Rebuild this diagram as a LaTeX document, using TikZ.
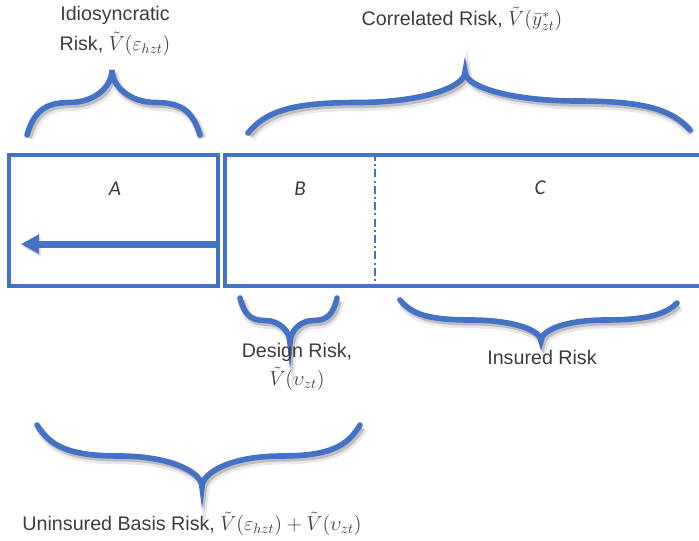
\documentclass[tikz,border=0pt]{standalone}
\usepackage{fontspec}
\setmainfont{Liberation Sans}
\newfontfamily\partfont{Carlito}
\usetikzlibrary{arrows.meta, positioning}
\definecolor{riskblue}{RGB}{68,114,196}
\definecolor{risktext}{RGB}{60,60,60}

\begin{document}
\begin{tikzpicture}[x=0.25mm, y=-0.25mm,
    every node/.style={text=risktext, font=\fontsize{14}{19}\selectfont},
    box part/.style={draw=riskblue, line width=1mm, inner sep=0pt, minimum height=32.75mm},
    part label/.style={font=\fontsize{15}{17}\selectfont\partfont\itshape},
    risk label/.style={align=center},
    divider/.style={draw=riskblue, line width=0.7mm, dash pattern=on 2mm off 0.8mm on 0.5mm off 0.8mm},
    big arrow/.style={draw=riskblue, line width=1.75mm, -{Triangle[length=4.5mm, width=4.6mm]},
        preaction={draw=black!40, opacity=.4, transform canvas={shift={(0.4mm,-0.6mm)}}}},
    brace line/.style={draw=riskblue, line width=1.4mm, line cap=round,
        preaction={draw=black!30, opacity=.3, line width=2.4mm, transform canvas={shift={(0.6mm,-0.9mm)}}},
        preaction={draw=black!45, opacity=.45, line width=1.4mm, transform canvas={shift={(0.5mm,-0.7mm)}}}}
]
    \useasboundingbox (0,0) rectangle (699,540);

    % The two parts of the bar
    \node[box part, minimum width=52.25mm] (boxA) at (113.5,220.5) {};
    \node[box part, minimum width=119.25mm] (boxBC) at (463.5,220.5) {};

    % Split between B and C
    \coordinate (split) at (375,220);
    \draw[divider] (split |- boxBC.north) -- (split |- boxBC.south);

    % Part letters
    \node[part label] (labA) at (115,189) {A};
    \node[part label] (labB) at (300,189) {B};
    \node[part label] (labC) at (540,188) {C};

    % Arrow inside A
    \draw[big arrow] ([xshift=-0.6mm, yshift=-5.9mm]boxA.east) -- ([xshift=3.5mm, yshift=-5.9mm]boxA.west);

    % Braces above the bar
    \draw[brace line] (27,135) .. controls (33.8,112.25) and (44,102.5) .. (69.5,102.5)
        .. controls (95,102.5) and (112,86.25) .. (112,70)
        .. controls (112,86.25) and (129.6,102.5) .. (156,102.5)
        .. controls (182.4,102.5) and (193,112.25) .. (200,135);
    \draw[brace line] (248,133) .. controls (265.4,111.65) and (291.4,102.5) .. (356.5,102.5)
        .. controls (421.6,102.5) and (465,87.25) .. (465,72)
        .. controls (465,86.5) and (510,101) .. (577.5,101)
        .. controls (645,101) and (672,109.7) .. (690,130);

    % Braces below the bar
    \draw[brace line] (240,298) .. controls (244,313.75) and (250,320.5) .. (265,320.5)
        .. controls (280,320.5) and (290,331.75) .. (290,343)
        .. controls (290,331.75) and (299.4,320.5) .. (313.5,320.5)
        .. controls (327.6,320.5) and (333.2,313.75) .. (337,298);
    \draw[brace line] (400,300) .. controls (411.3,314) and (428.2,320) .. (470.5,320)
        .. controls (512.8,320) and (541,330) .. (541,341)
        .. controls (541,330) and (566,320) .. (605,320)
        .. controls (648,320) and (666,314) .. (677,303);
    \draw[brace line] (37,425) .. controls (50.2,446.7) and (70,456) .. (119.5,456)
        .. controls (169,456) and (202,471.5) .. (202,487)
        .. controls (202,471.5) and (233.6,456) .. (281,456)
        .. controls (328.4,456) and (347.4,446.7) .. (360,425);

    % Risk labels
    \node[risk label] (idioText) at (115,31) {Idiosyncratic\\[2pt]Risk, $\tilde{V}(\varepsilon_{hzt})$};
    \node[risk label] (corrText) at (462,19) {Correlated Risk, $\tilde{V}(\bar{y}^{*}_{zt})$};
    \node[risk label] (designText) at (297,367) {Design Risk,\\[1pt]$\tilde{V}(\upsilon_{zt})$};
    \node[risk label] (insuredText) at (542,357) {Insured Risk};
    \node[risk label] (uninsText) at (192,524) {Uninsured Basis Risk, $\tilde{V}(\varepsilon_{hzt})+\tilde{V}(\upsilon_{zt})$};
\end{tikzpicture}
\end{document}
